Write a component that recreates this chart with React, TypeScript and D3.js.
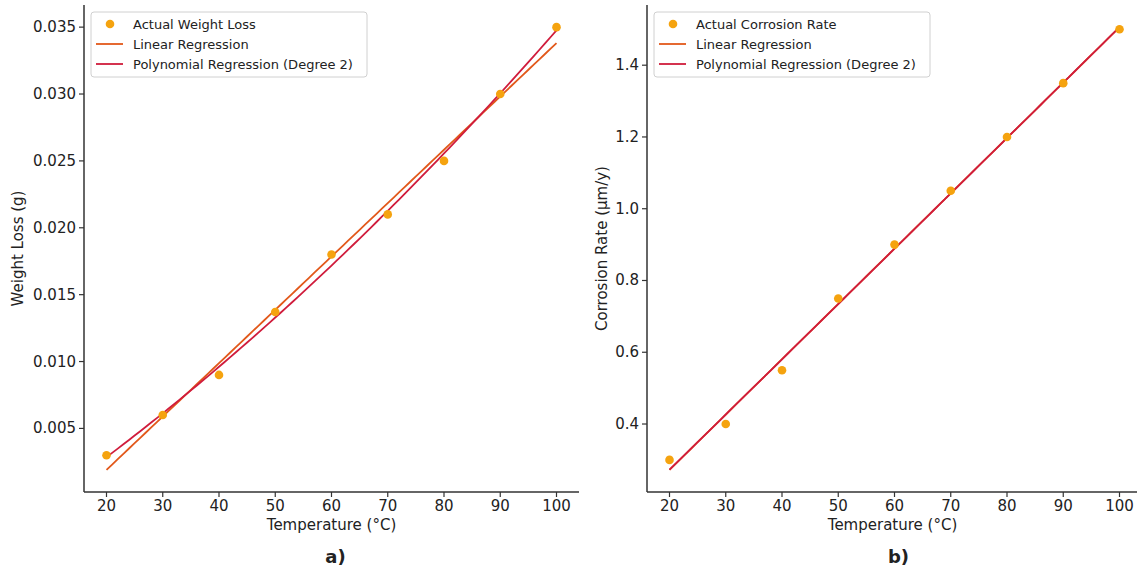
import React from "react";
import * as d3 from "d3";

const temperatures = [20, 30, 40, 50, 60, 70, 80, 90, 100];
const weightLoss = [0.003, 0.006, 0.009, 0.0137, 0.018, 0.021, 0.025, 0.03, 0.035];
const corrosionRate = [0.3, 0.4, 0.55, 0.75, 0.9, 1.05, 1.2, 1.35, 1.5];
const xTicks = [20, 30, 40, 50, 60, 70, 80, 90, 100];
const weightTicks = [0.005, 0.01, 0.015, 0.02, 0.025, 0.03, 0.035];
const corrosionTicks = [0.4, 0.6, 0.8, 1.0, 1.2, 1.4];

const COL_PT = "#f5a30f";
const COL_LIN = "#e2581a";
const COL_POLY = "#d01c3c";
const FONT = "DejaVu Sans, sans-serif";

function linFit(xs: number[], ys: number[]) {
  const mx = d3.mean(xs)!;
  const my = d3.mean(ys)!;
  let num = 0, den = 0;
  xs.forEach((x, i) => { num += (x - mx) * (ys[i] - my); den += (x - mx) ** 2; });
  const b = num / den;
  const a = my - b * mx;
  return (x: number) => a + b * x;
}

function polyFit2(xs: number[], ys: number[]) {
  const S = (p: number) => d3.sum(xs, (x) => x ** p);
  const T = (p: number) => d3.sum(xs.map((x, i) => x ** p * ys[i]));
  const A = [
    [S(0), S(1), S(2), T(0)],
    [S(1), S(2), S(3), T(1)],
    [S(2), S(3), S(4), T(2)],
  ];
  for (let i = 0; i < 3; i++) {
    for (let k = i + 1; k < 3; k++) {
      const f = A[k][i] / A[i][i];
      for (let j = i; j < 4; j++) A[k][j] -= f * A[i][j];
    }
  }
  const c = [0, 0, 0];
  for (let i = 2; i >= 0; i--) {
    let s = A[i][3];
    for (let j = i + 1; j < 3; j++) s -= A[i][j] * c[j];
    c[i] = s / A[i][i];
  }
  return (x: number) => c[0] + c[1] * x + c[2] * x * x;
}

type PanelProps = {
  left: number;
  right: number;
  ys: number[];
  yTicks: number[];
  yFmt: (v: number) => string;
  yLabel: string;
  pointLabel: string;
  tag: string;
  yLabelX: number;
};

function Panel({ left, right, ys, yTicks, yFmt, yLabel, pointLabel, tag, yLabelX }: PanelProps) {
  const top = 5, bottom = 492;
  const lin = linFit(temperatures, ys);
  const poly = polyFit2(temperatures, ys);
  const linY = temperatures.map(lin);
  const polyY = temperatures.map(poly);
  const all = [...ys, ...linY, ...polyY];
  const mn = d3.min(all)!, mx = d3.max(all)!;
  const r = mx - mn;
  const x = d3.scaleLinear().domain([16, 104]).range([left, right]);
  const y = d3.scaleLinear().domain([mn - 0.05 * r, mx + 0.05 * r]).range([bottom, top]);
  const fine = d3.range(20, 100.01, 1);
  const line = d3.line<[number, number]>().x((d) => x(d[0])).y((d) => y(d[1]));
  const linPath = line(fine.map((t) => [t, lin(t)]))!;
  const polyPath = line(fine.map((t) => [t, poly(t)]))!;
  const axisCol = "#333";
  const lx = left + 7, ly = 12;
  return (
    <g>
      <path d={linPath} fill="none" stroke={COL_LIN} strokeWidth={1.8} />
      <path d={polyPath} fill="none" stroke={COL_POLY} strokeWidth={1.8} />
      {temperatures.map((t, i) => (
        <circle key={i} cx={x(t)} cy={y(ys[i])} r={4.3} fill={COL_PT} />
      ))}
      <line x1={left} x2={left} y1={top} y2={bottom} stroke={axisCol} strokeWidth={1.5} />
      <line x1={left} x2={right} y1={bottom} y2={bottom} stroke={axisCol} strokeWidth={1.5} />
      {xTicks.map((t) => (
        <g key={t}>
          <line x1={x(t)} x2={x(t)} y1={bottom} y2={bottom + 5} stroke={axisCol} strokeWidth={1.2} />
          <text x={x(t)} y={bottom + 19} textAnchor="middle" fontSize={15} fontFamily={FONT} fill="#222">{t}</text>
        </g>
      ))}
      {yTicks.map((t) => (
        <g key={t}>
          <line x1={left - 5} x2={left} y1={y(t)} y2={y(t)} stroke={axisCol} strokeWidth={1.2} />
          <text x={left - 8} y={y(t) + 5} textAnchor="end" fontSize={15} fontFamily={FONT} fill="#222">{yFmt(t)}</text>
        </g>
      ))}
      <text x={(left + right) / 2 - (right > 1137 ? 2 : 0)} y={530} textAnchor="middle" fontSize={15} fontFamily={FONT} fill="#222">Temperature (°C)</text>
      <text transform={`translate(${yLabelX},${(top + bottom) / 2}) rotate(-90)`} textAnchor="middle" fontSize={15} fontFamily={FONT} fill="#222">{yLabel}</text>
      <text x={(left + right) / 2 + 4} y={563} textAnchor="middle" fontSize={18} fontWeight="bold" fontFamily={FONT} fill="#222">{tag}</text>
      <rect x={lx} y={ly} width={276} height={65} rx={3} fill="white" fillOpacity={0.85} stroke="#d0d0d0" strokeWidth={1} />
      <circle cx={lx + 19} cy={ly + 12} r={4.3} fill={COL_PT} />
      <line x1={lx + 5} x2={lx + 32} y1={ly + 32} y2={ly + 32} stroke={COL_LIN} strokeWidth={1.8} />
      <line x1={lx + 5} x2={lx + 32} y1={ly + 52} y2={ly + 52} stroke={COL_POLY} strokeWidth={1.8} />
      {[pointLabel, "Linear Regression", "Polynomial Regression (Degree 2)"].map((s, i) => (
        <text key={s} x={lx + 42} y={ly + 16.5 + i * 20} fontSize={13} fontFamily={FONT} fill="#222">{s}</text>
      ))}
    </g>
  );
}

export default function App() {
  return (
    <svg width={1137} height={574} style={{ position: "absolute", left: 0, top: 0, background: "white" }}>
      <rect width={1137} height={574} fill="white" />
      <Panel
        left={84}
        right={579}
        ys={weightLoss}
        yTicks={weightTicks}
        yFmt={d3.format(".3f")}
        yLabel="Weight Loss (g)"
        pointLabel="Actual Weight Loss"
        tag="a)"
        yLabelX={23}
      />
      <Panel
        left={647}
        right={1142}
        ys={corrosionRate}
        yTicks={corrosionTicks}
        yFmt={d3.format(".1f")}
        yLabel="Corrosion Rate (µm/y)"
        pointLabel="Actual Corrosion Rate"
        tag="b)"
        yLabelX={607}
      />
    </svg>
  );
}
